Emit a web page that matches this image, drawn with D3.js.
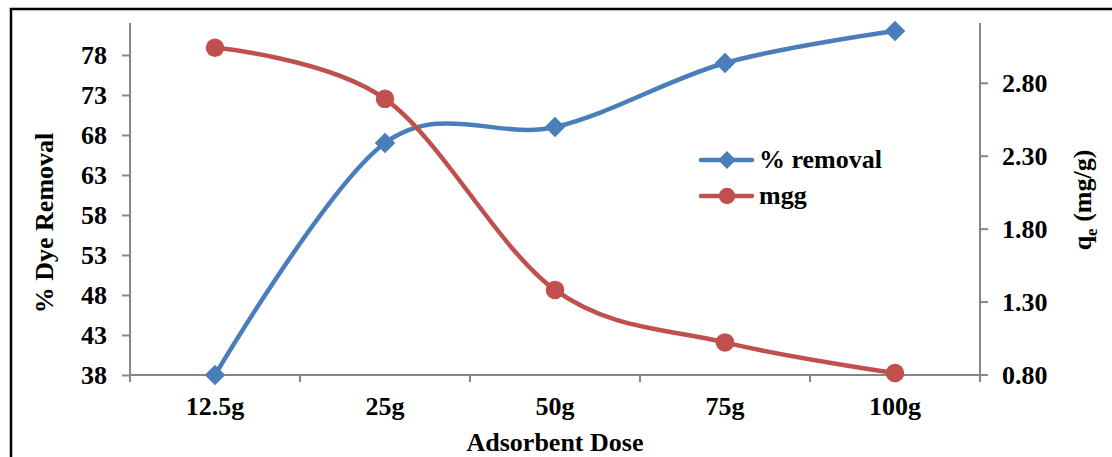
<!DOCTYPE html>
<html>
<head>
<meta charset="utf-8">
<script src="https://cdn.jsdelivr.net/npm/d3@7"></script>
<style>
  html, body { margin: 0; padding: 0; background: #fff; }
  svg text { font-family: "Liberation Serif", "Times New Roman", "DejaVu Serif", serif; font-weight: bold; fill: #000; }
</style>
</head>
<body>
<svg id="chart" width="1112" height="457"></svg>
<script>
const categories = ["12.5g", "25g", "50g", "75g", "100g"];
const removalValues = [38, 67, 69, 77, 81];
const mggValues = [3.04, 2.69, 1.38, 1.02, 0.81];
const leftTicks = [38, 43, 48, 53, 58, 63, 68, 73, 78];
const rightTicks = [0.80, 1.30, 1.80, 2.30, 2.80];
const seriesNames = ["% removal", "mgg"];

const svg = d3.select("#chart");
const W = 1112, H = 457;
const plot = { left: 130, right: 980, top: 23, bottom: 375 };
const FS = 26;

// outer frame
svg.append("rect").attr("x", 11).attr("y", 9).attr("width", W + 20).attr("height", H + 20)
  .attr("fill", "none").attr("stroke", "#000").attr("stroke-width", 2.5);

const x = d3.scaleBand().domain(categories).range([plot.left, plot.right]);
const yL = d3.scaleLinear().domain([38, 82]).range([plot.bottom, plot.top]);
const yR = d3.scaleLinear().domain([0.8, 3.21]).range([plot.bottom - 0.5, plot.top]);

const axisColor = "#868686";

// left axis
const gL = svg.append("g").attr("transform", `translate(${plot.left},0)`)
  .call(d3.axisLeft(yL).tickValues(leftTicks).tickSize(8).tickPadding(15).tickFormat(d3.format("d")));
gL.select(".domain").attr("d", `M0,${plot.top}V${plot.bottom}`);
// right axis
const gR = svg.append("g").attr("transform", `translate(${plot.right},0)`)
  .call(d3.axisRight(yR).tickValues(rightTicks).tickSize(8).tickPadding(14).tickFormat(d3.format(".2f")));
gR.select(".domain").attr("d", `M0,${plot.top}V${plot.bottom}`);
// bottom axis
const boundaries = categories.map(c => x(c)).concat([plot.right]);
const gB = svg.append("g").attr("transform", `translate(0,${plot.bottom})`)
  .call(d3.axisBottom(x).tickSize(0).tickPadding(22));
gB.select(".domain").attr("d", `M${plot.left},0H${plot.right}`);
gB.selectAll(".bnd").data(boundaries).enter().append("line")
  .attr("x1", d => d).attr("x2", d => d).attr("y1", 0).attr("y2", 7)
  .attr("stroke", axisColor).attr("stroke-width", 2);

[gL, gR, gB].forEach(g => {
  g.select(".domain").attr("stroke", axisColor).attr("stroke-width", 2);
  g.selectAll(".tick line").attr("stroke", axisColor).attr("stroke-width", 2);
  g.selectAll("text").attr("font-size", FS).attr("fill", "#000");
});
gL.selectAll(".tick text").attr("dy", "0.34em");
gR.selectAll(".tick text").attr("dy", "0.34em");

// axis titles
svg.append("text").attr("transform", `translate(53,223) rotate(-90)`)
  .attr("text-anchor", "middle").attr("font-size", FS).text("% Dye Removal");
const rt = svg.append("text").attr("transform", `translate(1091,200) rotate(-90)`)
  .attr("text-anchor", "middle").attr("font-size", FS);
rt.append("tspan").text("q");
rt.append("tspan").attr("font-size", 17).attr("dy", 6).text("e");
rt.append("tspan").attr("dy", -6).text(" (mg/g)");
svg.append("text").attr("x", (plot.left + plot.right) / 2).attr("y", 451)
  .attr("text-anchor", "middle").attr("font-size", FS).text("Adsorbent Dose");

const blue = "#4A7EBB", red = "#C0504D";
const cx = c => x(c) + x.bandwidth() / 2;

const lineL = d3.line().x((d, i) => cx(categories[i])).y(d => yL(d)).curve(d3.curveCatmullRom.alpha(0));
const lineR = d3.line().x((d, i) => cx(categories[i])).y(d => yR(d)).curve(d3.curveCatmullRom.alpha(0));

svg.append("path").attr("d", lineL(removalValues)).attr("fill", "none")
  .attr("stroke", blue).attr("stroke-width", 4.5).attr("stroke-linecap", "round");
svg.append("path").attr("d", lineR(mggValues)).attr("fill", "none")
  .attr("stroke", red).attr("stroke-width", 4.5).attr("stroke-linecap", "round");

svg.selectAll(".mb").data(removalValues).enter().append("path")
  .attr("transform", (d, i) => `translate(${cx(categories[i])},${yL(d)}) rotate(45)`)
  .attr("d", d3.symbol().type(d3.symbolSquare).size(210)()).attr("fill", blue);
svg.selectAll(".mr").data(mggValues).enter().append("path")
  .attr("transform", (d, i) => `translate(${cx(categories[i])},${yR(d)})`)
  .attr("d", d3.symbol().type(d3.symbolCircle).size(270)()).attr("fill", red);

// legend
const legend = svg.append("g");
const legItems = [
  { name: seriesNames[0], color: blue, y: 160, shape: "d" },
  { name: seriesNames[1], color: red, y: 196, shape: "c" }
];
legItems.forEach(it => {
  legend.append("line").attr("x1", 701).attr("x2", 752).attr("y1", it.y).attr("y2", it.y)
    .attr("stroke", it.color).attr("stroke-width", 4.5).attr("stroke-linecap", "round");
  if (it.shape === "d") {
    legend.append("path").attr("transform", `translate(727,${it.y}) rotate(45)`)
      .attr("d", d3.symbol().type(d3.symbolSquare).size(160)()).attr("fill", it.color);
  } else {
    legend.append("path").attr("transform", `translate(727,${it.y})`)
      .attr("d", d3.symbol().type(d3.symbolCircle).size(210)()).attr("fill", it.color);
  }
  legend.append("text").attr("x", 759).attr("y", it.y + 8).attr("font-size", FS).text(it.name);
});
</script>
</body>
</html>
